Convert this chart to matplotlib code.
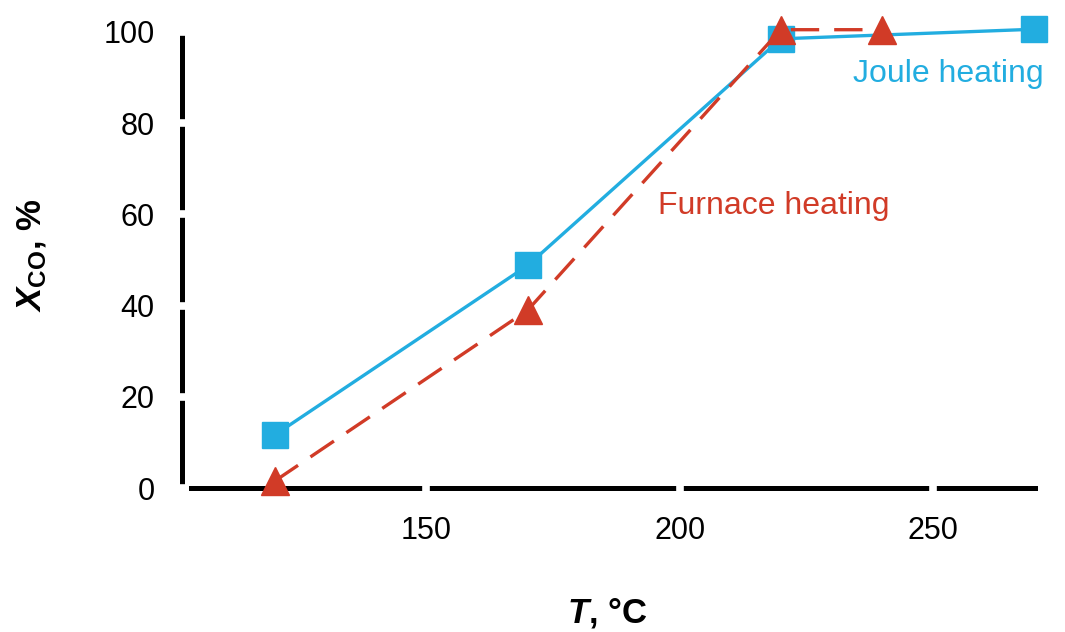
"""
plot.py: CO conversion vs temperature, Joule heating vs furnace heating
"""

import matplotlib.pyplot as plt

plt.rcParams['font.family'] = ['Liberation Sans', 'DejaVu Sans']
plt.rcParams['mathtext.fontset'] = 'custom'
plt.rcParams['mathtext.rm'] = 'Liberation Sans'
plt.rcParams['mathtext.it'] = 'Liberation Sans:italic:bold'
plt.rcParams['mathtext.bf'] = 'Liberation Sans:bold'

# data
joule_t = [120, 170, 220, 270]
joule_x = [11.6, 48.8, 98.5, 100.6]
furnace_t = [120, 170, 220, 240]
furnace_x = [1.5, 39.0, 100.5, 100.5]

x_ticks = [150, 200, 250]
y_ticks = [0, 20, 40, 60, 80, 100]

BLUE = '#22ADE0'
RED = '#D13B27'

fig = plt.figure(figsize=(10.65, 6.32), dpi=100)
ax = fig.add_axes([0.1784, 0.2278, 0.7934, 0.7216])

ax.plot(joule_t, joule_x, color=BLUE, lw=2.4, marker='s', ms=18.5,
        clip_on=False, zorder=3)
ax.plot(furnace_t, furnace_x, color=RED, lw=2.4, ls=(0, (8.5, 4.5)),
        marker='^', ms=20, clip_on=False, zorder=4)

ax.set_xlim(103.3, 270.2)
ax.set_ylim(0, 100)
ax.set_xticks(x_ticks)
ax.set_yticks(y_ticks)

# spines: thick black, left one pushed out a little
for side in ['top', 'right']:
    ax.spines[side].set_visible(False)
ax.spines['left'].set_position(('outward', 6))
for side in ['left', 'bottom']:
    ax.spines[side].set_linewidth(3.6)
    ax.spines[side].set_zorder(1)

# white ticks cut little gaps into the axis lines
ax.tick_params(axis='both', direction='inout', length=10, width=5.5,
               color='white', labelsize=22)
ax.tick_params(axis='x', pad=15)
ax.tick_params(axis='y', pad=14.5)
for t in ax.xaxis.get_major_ticks() + ax.yaxis.get_major_ticks():
    t.tick1line.set_zorder(2)

# axis titles
fig.text(0.030, 0.596, r'$\mathit{X}_{\mathbf{CO}}$, %', rotation=90,
         fontsize=25, fontweight='bold', ha='center', va='center')
fig.text(0.57, 0.0158, r'$\mathit{T}$, °C', fontsize=25,
         fontweight='bold', ha='center', va='baseline')

# series labels
ax.text(234.3, 89.0, 'Joule heating', color=BLUE, fontsize=23)
ax.text(195.7, 60.1, 'Furnace heating', color=RED, fontsize=23)

fig.savefig('out.png', dpi=100)
